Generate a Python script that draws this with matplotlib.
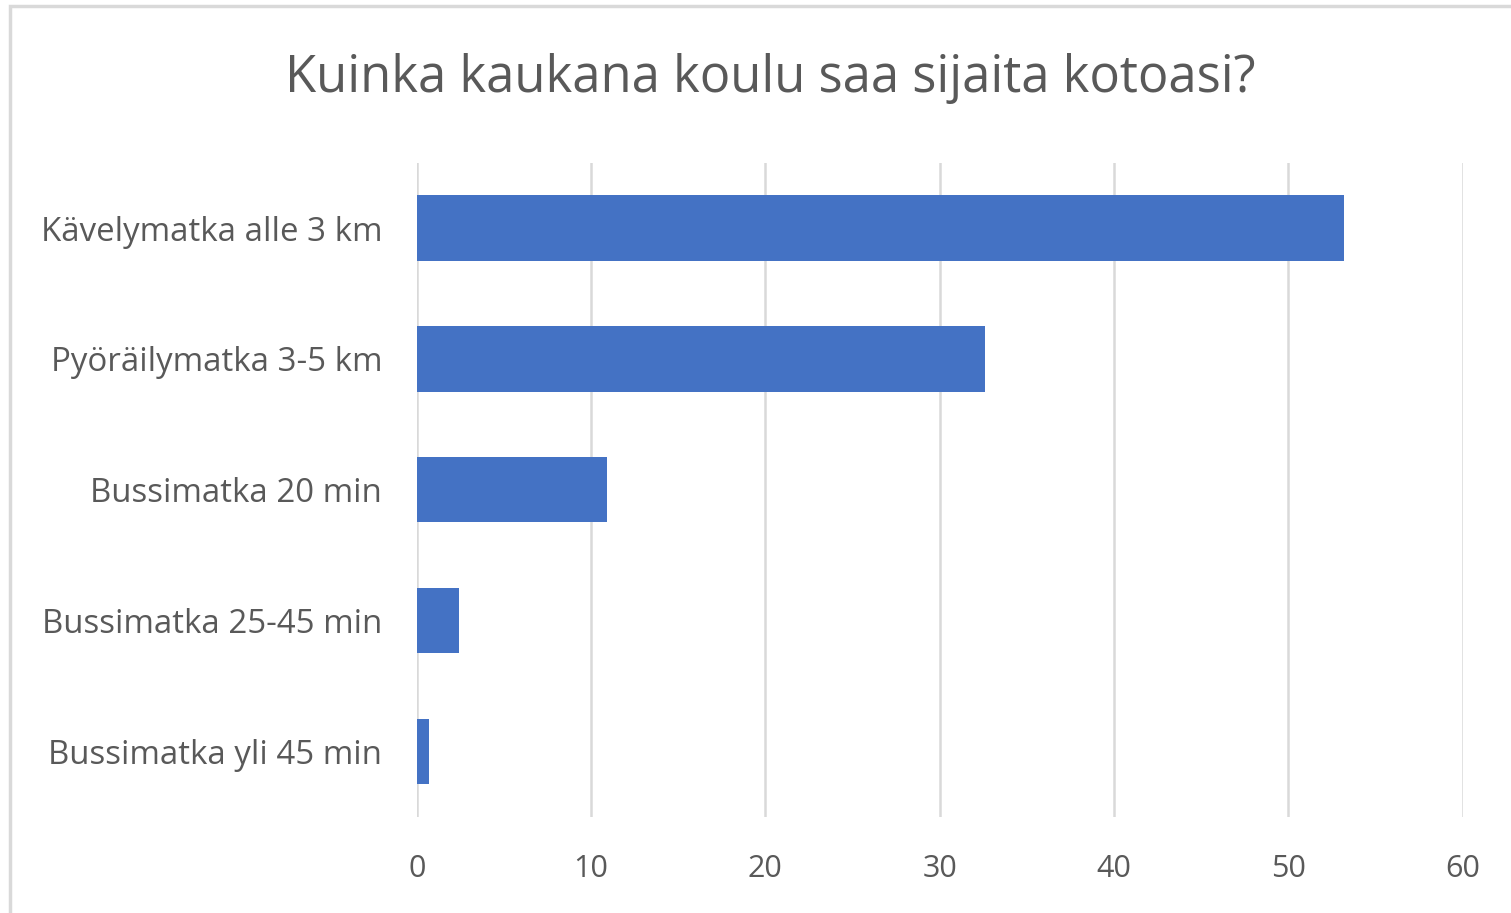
import matplotlib.pyplot as plt
from matplotlib.patches import Rectangle

categories = ["Kävelymatka alle 3 km", "Pyöräilymatka 3-5 km", "Bussimatka 20 min",
              "Bussimatka 25-45 min", "Bussimatka yli 45 min"]
values = [53.2, 32.6, 10.9, 2.4, 0.7]
xticks = [0, 10, 20, 30, 40, 50, 60]

plt.rcParams['font.family'] = ['Open Sans', 'DejaVu Sans']
text_color = '#595959'
grid_color = '#d9d9d9'

fig = plt.figure(figsize=(15.11, 9.13), dpi=100)
ax = fig.add_axes([0.2758, 0.1055, 0.6922, 0.7163])

# chart frame (cut off at right and bottom like the screenshot)
fig.patches.append(Rectangle((10 / 1511, -0.1), 1.2, 1 - 6 / 913 + 0.1,
                             transform=fig.transFigure, fill=False,
                             edgecolor=grid_color, linewidth=2.5))

ypos = list(range(len(categories)))
ax.barh(ypos, values, height=0.5, color='#4472C4', zorder=3)
ax.set_ylim(len(categories) - 0.5, -0.5)
ax.set_xlim(0, 60)
ax.set_xticks(xticks)
ax.set_yticks(ypos)
ax.set_yticklabels(categories)

ax.xaxis.grid(True, color=grid_color, linewidth=1.8, zorder=0)
for side in ax.spines.values():
    side.set_visible(False)
ax.tick_params(axis='y', length=0, pad=25, labelsize=23.8, labelcolor=text_color)
ax.tick_params(axis='x', length=0, pad=27, labelsize=22, labelcolor=text_color)

fig.text(0.5098, 1 - 78 / 913, "Kuinka kaukana koulu saa sijaita kotoasi?",
         ha='center', va='center', fontsize=36.5, color=text_color)

fig.savefig("out.png", dpi=100)
